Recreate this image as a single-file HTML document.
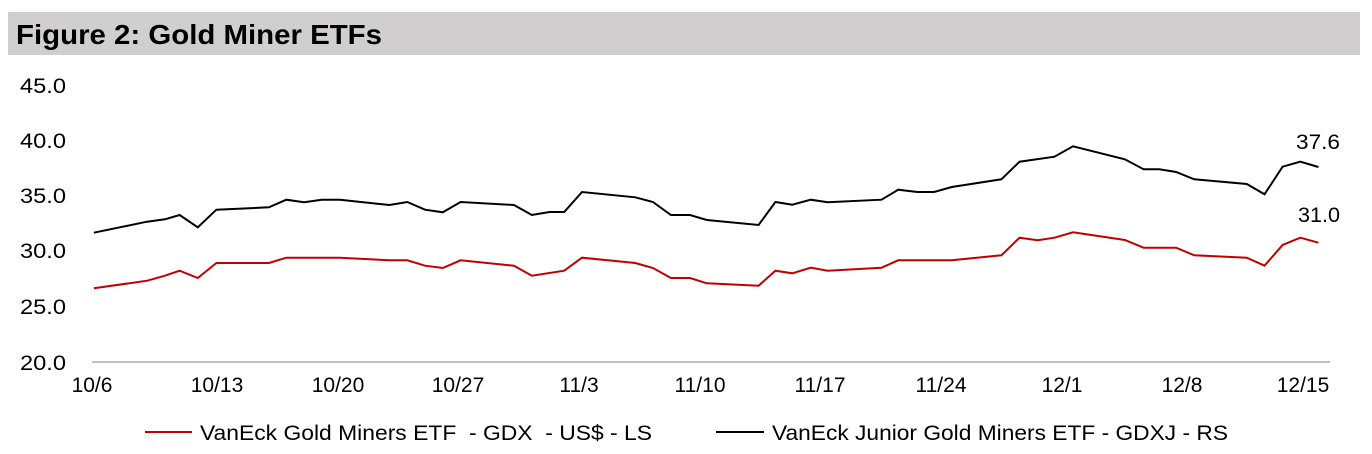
<!DOCTYPE html>
<html><head><style>
html,body{margin:0;padding:0;background:#fff;}
body{width:1372px;height:454px;overflow:hidden;position:relative;font-family:"Liberation Sans",Arial,sans-serif;}
.title{position:absolute;left:8px;top:12px;width:1352px;height:43px;background:#d0cece;}
</style></head><body>
<div class="title"></div>
<svg width="1372" height="454" style="position:absolute;left:0;top:0" font-family="Liberation Sans, Arial, sans-serif">
<text x="16" y="44" font-size="28" font-weight="bold" textLength="366" lengthAdjust="spacingAndGlyphs">Figure 2: Gold Miner ETFs</text>
<g font-size="21" fill="#000">
<text x="20" y="93" textLength="46" lengthAdjust="spacingAndGlyphs">45.0</text>
<text x="20" y="148" textLength="46" lengthAdjust="spacingAndGlyphs">40.0</text>
<text x="20" y="203" textLength="46" lengthAdjust="spacingAndGlyphs">35.0</text>
<text x="20" y="258" textLength="46" lengthAdjust="spacingAndGlyphs">30.0</text>
<text x="20" y="314" textLength="46" lengthAdjust="spacingAndGlyphs">25.0</text>
<text x="20" y="370" textLength="46" lengthAdjust="spacingAndGlyphs">20.0</text>
</g>
<line x1="92" y1="362" x2="1330" y2="362" stroke="#808080" stroke-width="1"/>
<g font-size="21" fill="#000" text-anchor="middle">
<text x="92" y="392">10/6</text>
<text x="217" y="392">10/13</text>
<text x="338" y="392">10/20</text>
<text x="458" y="392">10/27</text>
<text x="579" y="392">11/3</text>
<text x="700" y="392">11/10</text>
<text x="820" y="392">11/17</text>
<text x="941" y="392">11/24</text>
<text x="1062" y="392">12/1</text>
<text x="1182" y="392">12/8</text>
<text x="1303" y="392">12/15</text>
</g>
<polyline fill="none" stroke="#000" stroke-width="2" points="93.8,232.7 147,221.7 165,219.3 179.6,215 197.8,227.3 216.4,209.7 269,207.3 286.3,199.7 304,202.3 321.9,199.7 340,199.7 389.5,205 407.3,202 425,209.7 442.8,212.3 460.6,202 514,205 531.8,215 549.6,212 564.2,212 582,192 635.3,197.3 653,202 670.9,215 690,215 706.8,220 758.6,225 775.4,202 792.3,204.7 810.8,199.7 827.6,202.3 881.5,199.7 898.3,189.7 917.3,192 934.1,192 951.8,187 1001.4,179.3 1019.5,161.7 1054.5,156.7 1073,146.3 1124.8,159.3 1143.7,169.3 1159.3,169.3 1176.1,172 1194.2,179.3 1246.8,184 1264.5,194.3 1282.6,166.7 1300.3,161.7 1318.4,167"/>
<polyline fill="none" stroke="#c00000" stroke-width="2" points="93.8,288.3 147.2,280.7 165,275.7 179.6,270.7 197.8,278 216.4,263 269,263 286.3,257.7 340,257.7 389.5,260.3 407.3,260.3 425,265.7 442.8,268 460.6,260.3 514,265.7 531.8,275.7 564.2,270.7 582,257.7 635.3,263 653,268 670.9,278 690,278 706.8,283.3 758.6,285.7 775.4,270.7 792.3,273.3 810.8,267.7 827.6,270.7 881.5,267.7 898.3,260.3 951.8,260.3 1001.4,255.3 1019.5,237.7 1037.6,240.3 1054.5,237.7 1073,232.3 1124.8,240 1143.7,247.7 1176.1,247.7 1194.2,255.3 1246.8,257.7 1264.5,265.7 1282.6,245 1300.3,237.7 1318.4,242.7"/>
<text x="1296" y="149" font-size="21" textLength="44" lengthAdjust="spacingAndGlyphs">37.6</text>
<text x="1298" y="222" font-size="21" textLength="42" lengthAdjust="spacingAndGlyphs">31.0</text>
<line x1="145" y1="432" x2="192" y2="432" stroke="#c00000" stroke-width="2"/>
<text x="200" y="440" font-size="21" xml:space="preserve" textLength="452" lengthAdjust="spacingAndGlyphs">VanEck Gold Miners ETF  - GDX  - US$ - LS</text>
<line x1="716" y1="432" x2="764" y2="432" stroke="#000" stroke-width="2"/>
<text x="772" y="440" font-size="21" textLength="456" lengthAdjust="spacingAndGlyphs">VanEck Junior Gold Miners ETF - GDXJ - RS</text>
</svg>
</body></html>
